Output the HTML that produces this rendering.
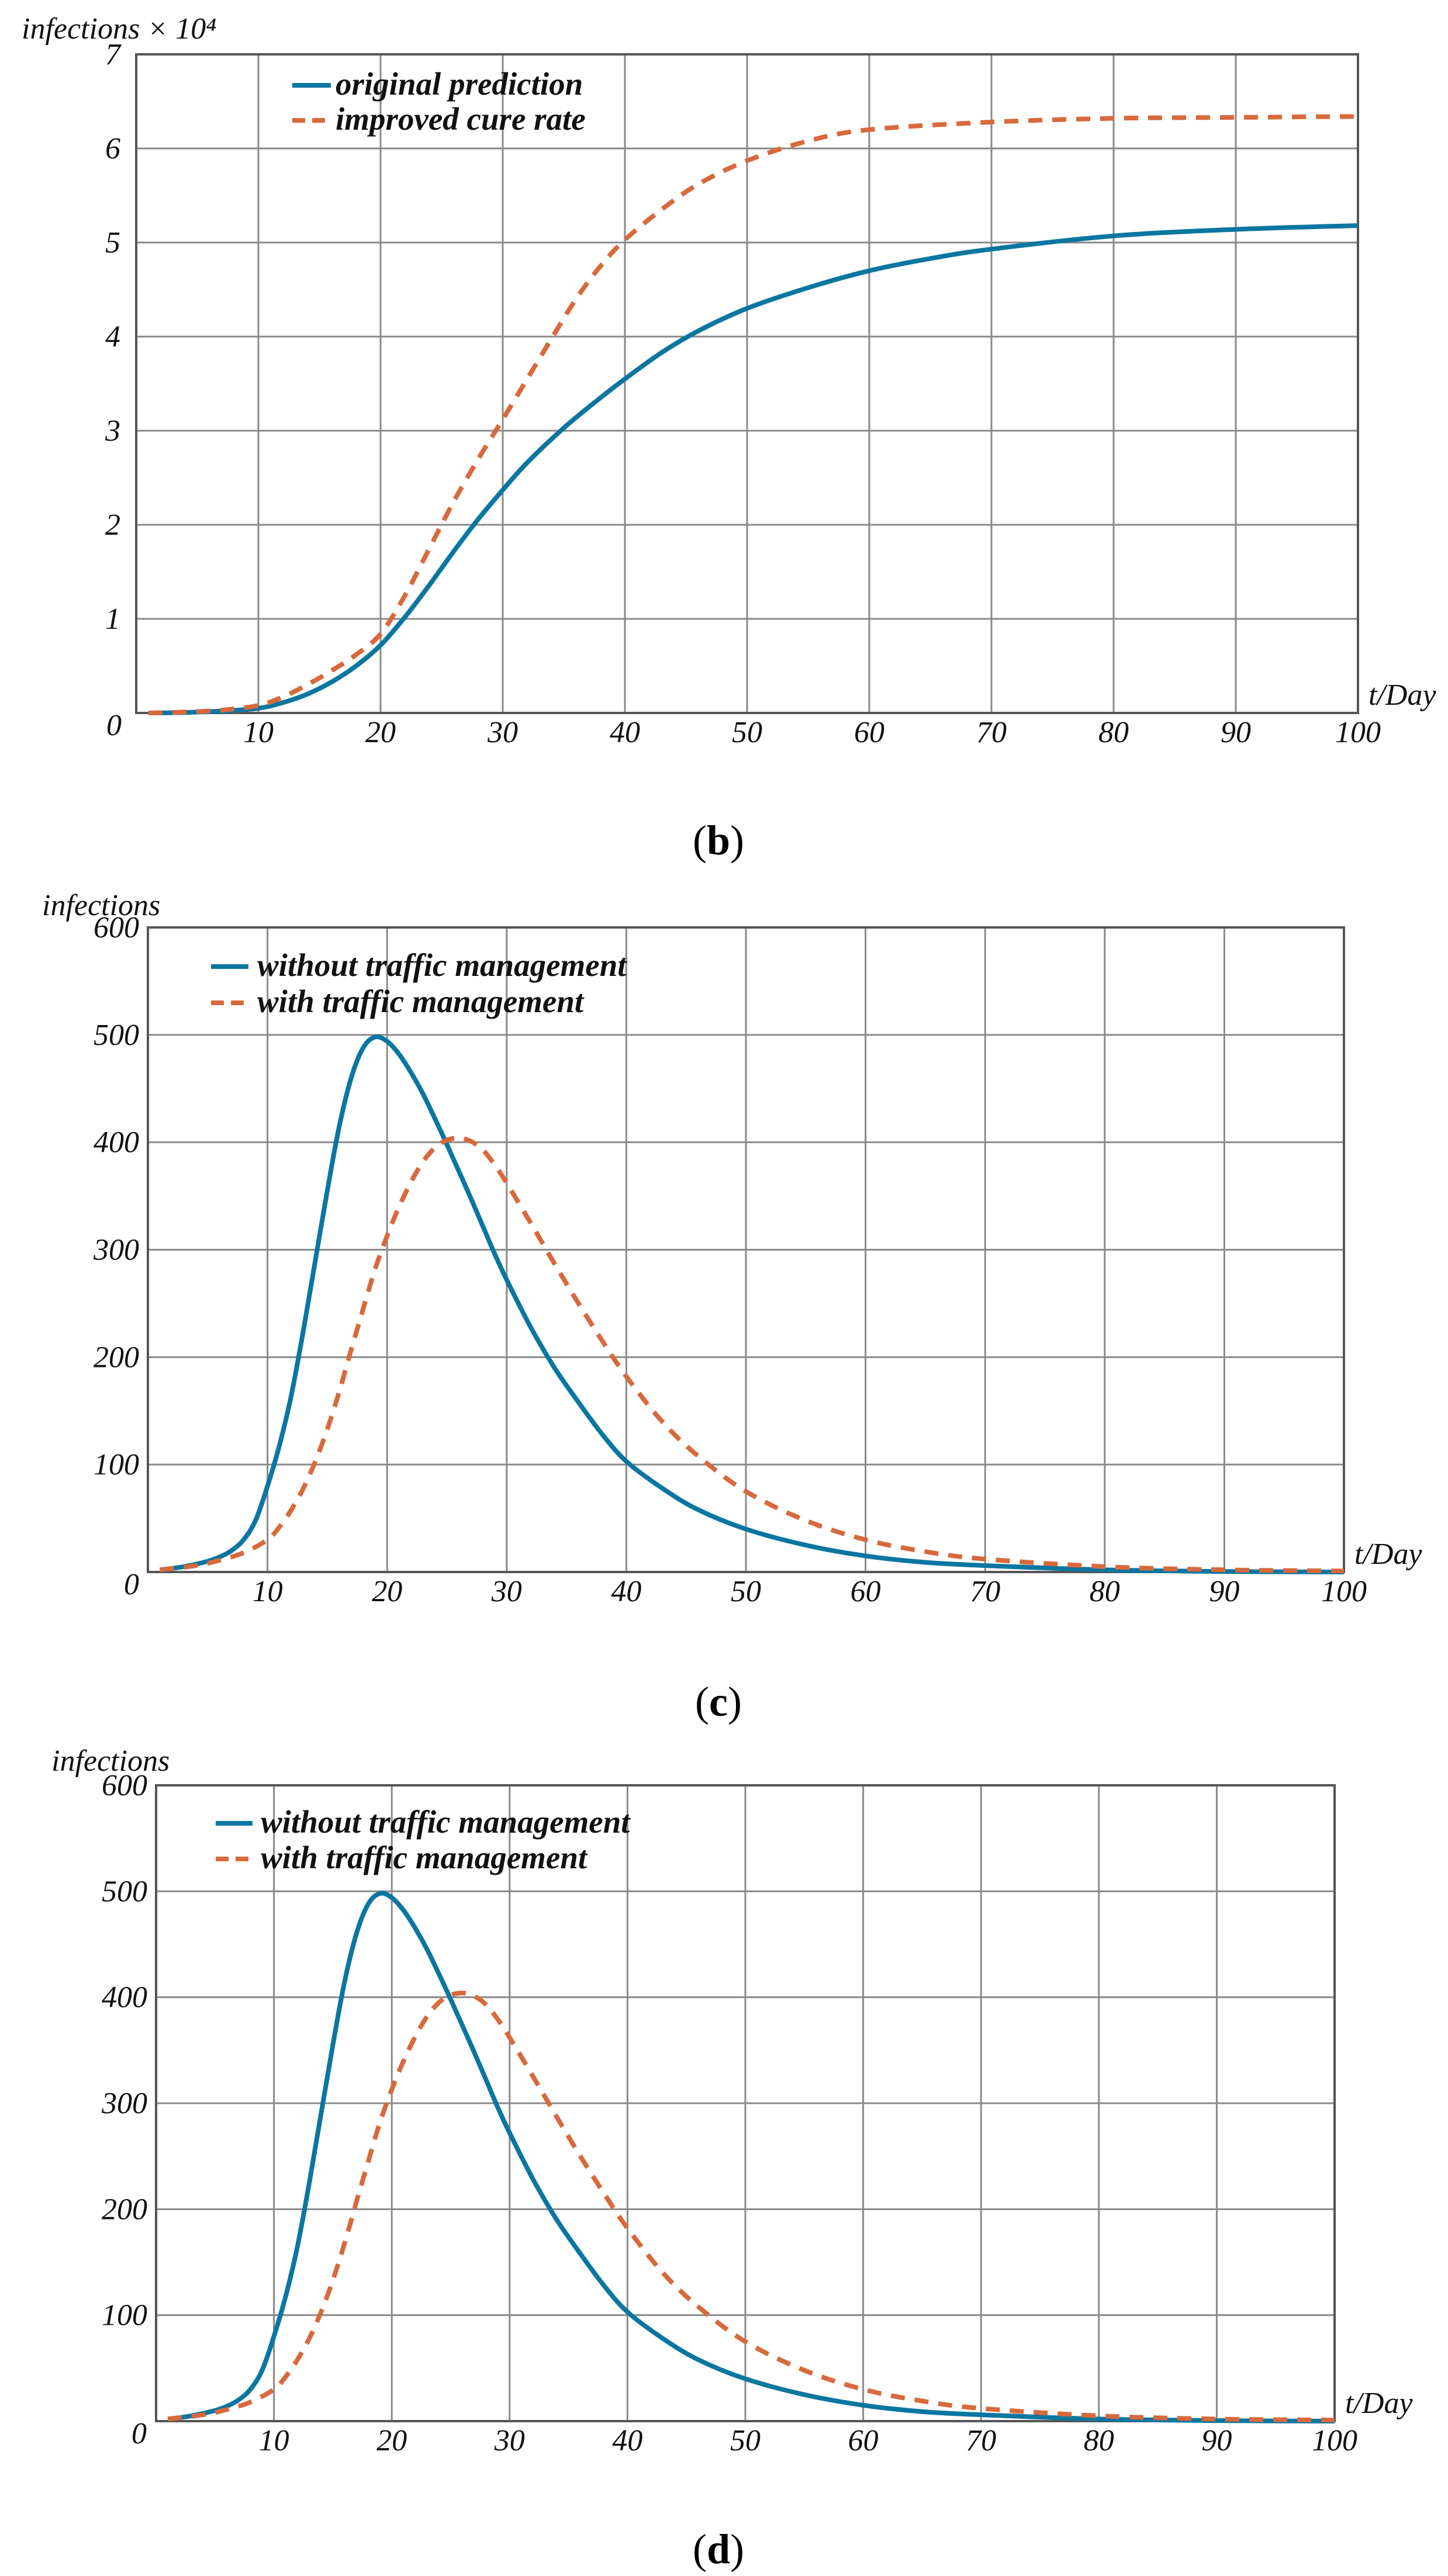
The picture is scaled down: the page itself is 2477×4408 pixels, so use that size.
<!DOCTYPE html>
<html><head><meta charset="utf-8"><style>
html,body{margin:0;padding:0;background:#fff;}
svg{display:block;}
text{font-family:"Liberation Serif",serif;}
.t{font-style:italic;font-size:52px;fill:#111;}
.lg{font-style:italic;font-weight:bold;font-size:55px;fill:#111;}
.cap{font-size:72px;fill:#000;}
</style></head><body>
<svg id="s" width="2477" height="4408" xmlns="http://www.w3.org/2000/svg">
<rect width="2477" height="4408" fill="#fff"/>
<text class="cap" x="1229" y="1462" text-anchor="middle">(<tspan font-weight="bold">b</tspan>)</text>
<text class="cap" x="1229" y="2936" text-anchor="middle">(<tspan font-weight="bold">c</tspan>)</text>
<text class="cap" x="1229" y="4386" text-anchor="middle">(<tspan font-weight="bold">d</tspan>)</text>
</svg>
<script>
var S=document.getElementById('s');var NS='http://www.w3.org/2000/svg';
function el(n,a,t){var e=document.createElementNS(NS,n);for(var k in a)e.setAttribute(k,a[k]);if(t!==undefined)e.textContent=t;S.appendChild(e);return e;}
function path(pts){var d='M'+pts[0][0]+' '+pts[0][1];for(var i=0;i<pts.length-1;i++){var p0=pts[i-1]||pts[i],p1=pts[i],p2=pts[i+1],p3=pts[i+2]||p2;
var c1x=p1[0]+(p2[0]-p0[0])/6,c1y=p1[1]+(p2[1]-p0[1])/6,c2x=p2[0]-(p3[0]-p1[0])/6,c2y=p2[1]-(p3[1]-p1[1])/6;
d+=' C'+c1x.toFixed(1)+' '+c1y.toFixed(1)+' '+c2x.toFixed(1)+' '+c2y.toFixed(1)+' '+p2[0].toFixed(1)+' '+p2[1].toFixed(1);}return d;}
function chart(o){
 var L=o.L,R=o.R,T=o.T,B=o.B,ny=o.ny;var W=R-L,H=B-T;
 function X(t){return L+W*t/100;}function Y(v){return B-H*v/o.ymax;}
 for(var i=1;i<10;i++)el('line',{x1:X(i*10),x2:X(i*10),y1:T,y2:B,stroke:'#8a8a8a','stroke-width':3});
 for(var j=1;j<ny;j++){var y=T+H*j/ny;el('line',{x1:L,x2:R,y1:y,y2:y,stroke:'#8a8a8a','stroke-width':3});}
 el('rect',{x:L,y:T,width:W,height:H,fill:'none',stroke:'#555','stroke-width':4});
 function pts(data){return data.map(function(p){return [X(p[0]),Y(p[1])];});}
 el('path',{d:path(pts(o.blue)),fill:'none',stroke:'#0b76a0','stroke-width':8});
 el('path',{d:path(pts(o.orange)),fill:'none',stroke:'#d8693c','stroke-width':8,'stroke-dasharray':'24 17'});
 for(var j=1;j<=ny;j++){var v=o.ylab[j];el('text',{'class':'t',x:o.yr,y:Y(o.ymax*j/ny)+17,'text-anchor':'end'},v);}
 el('text',{'class':'t',x:o.zx,y:B+38,'text-anchor':'middle'},'0');
 for(var i=1;i<=10;i++)el('text',{'class':'t',x:X(i*10),y:B+50,'text-anchor':'middle'},String(i*10));
 el('text',{'class':'t',x:R+18,y:B-14},'t/Day');
 el('text',{'class':'t',x:o.ylx,y:o.yly},o.ytitle);
 el('line',{x1:o.lx1,x2:o.lx2,y1:o.ly1,y2:o.ly1,stroke:'#0b76a0','stroke-width':8});
 el('line',{x1:o.lx1,x2:o.lx2,y1:o.ly2,y2:o.ly2,stroke:'#d8693c','stroke-width':8,'stroke-dasharray':'22 12'});
 el('text',{'class':'lg',x:o.tx,y:o.ly1+16},o.l1);
 el('text',{'class':'lg',x:o.tx,y:o.ly2+16},o.l2);
}
var bB=[[1,0],[4,0.005],[7,0.02],[10,0.05],[12,0.11],[14,0.2],[16,0.33],[18,0.5],[20,0.72],[22,1.02],[24,1.36],[26,1.72],[28,2.06],[30,2.37],[32,2.66],[35,3.03],[38,3.35],[40,3.55],[43,3.83],[46,4.06],[50,4.3],[55,4.52],[60,4.7],[65,4.83],[70,4.93],[80,5.07],[90,5.14],[100,5.18]];
var bO=[[1,0],[4,0.01],[7,0.03],[10,0.08],[12,0.17],[14,0.3],[16,0.45],[18,0.62],[20,0.84],[22,1.25],[24,1.75],[26,2.25],[28,2.7],[30,3.12],[32,3.55],[34,3.98],[36,4.4],[38,4.75],[40,5.03],[43,5.35],[46,5.62],[50,5.87],[55,6.08],[60,6.2],[70,6.28],[80,6.32],[90,6.33],[100,6.34]];
chart({L:233,R:2323,T:93,B:1220,ny:7,ymax:7,ylab:['0','1','2','3','4','5','6','7'],yr:206,zx:195,
 blue:bB,orange:bO,ytitle:'infections \u00d7 10\u2074',ylx:37,yly:66,
 lx1:500,lx2:566,ly1:146,ly2:206,tx:574,l1:'original prediction',l2:'improved cure rate'});
var cB=[[1,2],[3,5],[5,10],[6,14],[7,20],[8,30],[9,48],[10,80],[11,118],[12,165],[13,225],[14,290],[15,355],[16,415],[17,460],[18,488],[19,498],[20,494],[21,482],[22,465],[23,445],[24,422],[25,398],[26,373],[27,348],[28,322],[29,296],[30,272],[32,228],[34,190],[36,158],[38,128],[40,103],[43,78],[46,58],[50,40],[55,25],[60,15],[65,9],[70,6],[80,2],[90,0.5],[100,0]];
var cO=[[1,2],[4,6],[6,11],[8,18],[10,30],[11,42],[12,58],[13,78],[14,103],[15,133],[16,168],[17,207],[18,245],[19,282],[20,313],[21,340],[22,363],[23,382],[24,395],[25,402],[26,404],[27,401],[28,393],[29,379],[30,362],[32,325],[34,287],[36,250],[38,215],[40,182],[43,140],[46,108],[50,75],[55,48],[60,30],[65,19],[70,12],[80,5],[90,2],[100,1]];
var lab=['0','100','200','300','400','500','600'];
chart({L:253,R:2299,T:1587,B:2690,ny:6,ymax:600,ylab:lab,yr:238,zx:225,blue:cB,orange:cO,
 ytitle:'infections',ylx:72,yly:1566,lx1:361,lx2:425,ly1:1654,ly2:1716,tx:440,l1:'without traffic management',l2:'with traffic management'});
chart({L:267,R:2283,T:3055,B:4143,ny:6,ymax:600,ylab:lab,yr:252,zx:238,blue:cB,orange:cO,
 ytitle:'infections',ylx:88,yly:3030,lx1:369,lx2:432,ly1:3120,ly2:3181,tx:446,l1:'without traffic management',l2:'with traffic management'});
</script>
</body></html>
